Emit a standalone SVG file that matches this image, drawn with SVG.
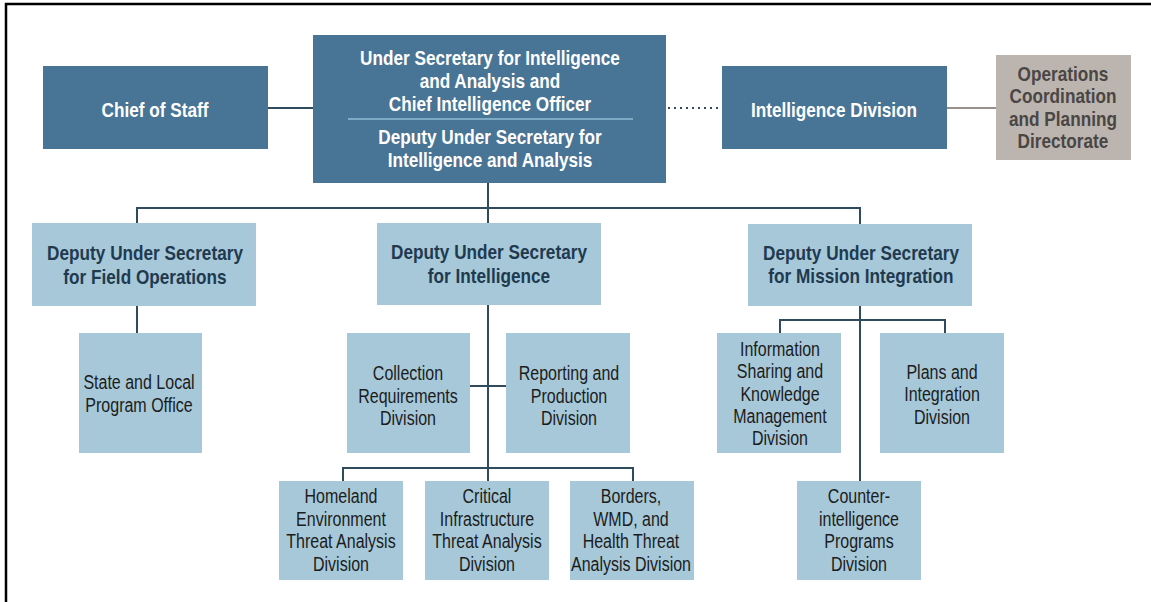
<svg xmlns="http://www.w3.org/2000/svg" width="1151" height="602" viewBox="0 0 1151 602">
<style>
.dark{fill:#487495;}
.light{fill:#a6c8d8;}
.gray{fill:#bcb5af;}
text{font-family:"Liberation Sans",Arial,sans-serif;text-anchor:middle;font-size:20px;transform-box:fill-box;transform-origin:center;}
.tw{fill:#ffffff;font-weight:bold;transform:scaleX(0.86);}
.tb{fill:#1f3a4f;font-weight:bold;transform:scaleX(0.86);}
.tg{fill:#4a4644;font-weight:bold;transform:scaleX(0.86);}
.tn{fill:#1c1c1c;transform:scaleX(0.8);}
.conn{stroke:#2f4b5e;stroke-width:2;fill:none;}
</style>
<rect x="0" y="0" width="1151" height="602" fill="#ffffff"/>
<path d="M6,602 V4 H1151" fill="none" stroke="#000" stroke-width="2.5"/>
<g id="connectors">
<line class="conn" x1="268" y1="108" x2="313" y2="108"/>
<line x1="668" y1="108" x2="721" y2="108" stroke="#2f4b5e" stroke-width="2" stroke-dasharray="2,4"/>
<line x1="947" y1="108" x2="996" y2="108" stroke="#9a918b" stroke-width="2"/>
<path class="conn" d="M488,183 V208 M137,223 V208 H860 V224 M488,208 V223"/>
<line class="conn" x1="137" y1="306" x2="137" y2="333"/>
<path class="conn" d="M488,305 V468 M470,386 H506 M343,481 V468 H633 V481 M488,468 V481"/>
<path class="conn" d="M860,306 V481 M780,333 V320 H945 V333"/>
</g>
<g id="chief-of-staff">
<rect class="dark" x="43" y="66" width="225" height="83"/>
<text class="tw" x="155" y="117">Chief of Staff</text>
</g>
<g id="under-secretary">
<rect class="dark" x="313" y="35" width="353" height="148"/>
<text class="tw" x="490" y="65">Under Secretary for Intelligence</text>
<text class="tw" x="490" y="88">and Analysis and</text>
<text class="tw" x="490" y="111">Chief Intelligence Officer</text>
<line x1="348" y1="119" x2="633" y2="119" stroke="#8fbdd6" stroke-width="1.5"/>
<text class="tw" x="490" y="144">Deputy Under Secretary for</text>
<text class="tw" x="490" y="167">Intelligence and Analysis</text>
</g>
<g id="intelligence-division">
<rect class="dark" x="722" y="66" width="225" height="83"/>
<text class="tw" x="834" y="117">Intelligence Division</text>
</g>
<g id="ops-coordination">
<rect class="gray" x="996" y="55" width="135" height="105"/>
<text class="tg" x="1063" y="81">Operations</text>
<text class="tg" x="1063" y="103">Coordination</text>
<text class="tg" x="1063" y="126">and Planning</text>
<text class="tg" x="1063" y="148">Directorate</text>
</g>
<g id="dus-field">
<rect class="light" x="32" y="223" width="224" height="83"/>
<text class="tb" x="145" y="260">Deputy Under Secretary</text>
<text class="tb" x="145" y="284">for Field Operations</text>
</g>
<g id="dus-intelligence">
<rect class="light" x="377" y="223" width="224" height="82"/>
<text class="tb" x="489" y="259">Deputy Under Secretary</text>
<text class="tb" x="489" y="283">for Intelligence</text>
</g>
<g id="dus-mission">
<rect class="light" x="748" y="224" width="224" height="82"/>
<text class="tb" x="861" y="260">Deputy Under Secretary</text>
<text class="tb" x="861" y="283">for Mission Integration</text>
</g>
<g id="state-local">
<rect class="light" x="79" y="333" width="123" height="120"/>
<text class="tn" x="139" y="389">State and Local</text>
<text class="tn" x="139" y="412">Program Office</text>
</g>
<g id="collection">
<rect class="light" x="347" y="333" width="123" height="120"/>
<text class="tn" x="408" y="380">Collection</text>
<text class="tn" x="408" y="403">Requirements</text>
<text class="tn" x="408" y="425">Division</text>
</g>
<g id="reporting">
<rect class="light" x="506" y="333" width="124" height="120"/>
<text class="tn" x="569" y="380">Reporting and</text>
<text class="tn" x="569" y="403">Production</text>
<text class="tn" x="569" y="425">Division</text>
</g>
<g id="info-sharing">
<rect class="light" x="717" y="333" width="124" height="120"/>
<text class="tn" x="780" y="356">Information</text>
<text class="tn" x="780" y="378">Sharing and</text>
<text class="tn" x="780" y="401">Knowledge</text>
<text class="tn" x="780" y="423">Management</text>
<text class="tn" x="780" y="445">Division</text>
</g>
<g id="plans">
<rect class="light" x="880" y="333" width="124" height="120"/>
<text class="tn" x="942" y="379">Plans and</text>
<text class="tn" x="942" y="401">Integration</text>
<text class="tn" x="942" y="424">Division</text>
</g>
<g id="homeland">
<rect class="light" x="279" y="481" width="124" height="99"/>
<text class="tn" x="341" y="503">Homeland</text>
<text class="tn" x="341" y="526">Environment</text>
<text class="tn" x="341" y="548">Threat Analysis</text>
<text class="tn" x="341" y="571">Division</text>
</g>
<g id="critical">
<rect class="light" x="425" y="481" width="124" height="99"/>
<text class="tn" x="487" y="503">Critical</text>
<text class="tn" x="487" y="526">Infrastructure</text>
<text class="tn" x="487" y="548">Threat Analysis</text>
<text class="tn" x="487" y="571">Division</text>
</g>
<g id="borders">
<rect class="light" x="570" y="481" width="124" height="99"/>
<text class="tn" x="631" y="503">Borders,</text>
<text class="tn" x="631" y="526">WMD, and</text>
<text class="tn" x="631" y="548">Health Threat</text>
<text class="tn" x="631" y="571">Analysis Division</text>
</g>
<g id="counterintelligence">
<rect class="light" x="797" y="481" width="124" height="99"/>
<text class="tn" x="859" y="503">Counter-</text>
<text class="tn" x="859" y="526">intelligence</text>
<text class="tn" x="859" y="548">Programs</text>
<text class="tn" x="859" y="571">Division</text>
</g>
</svg>
